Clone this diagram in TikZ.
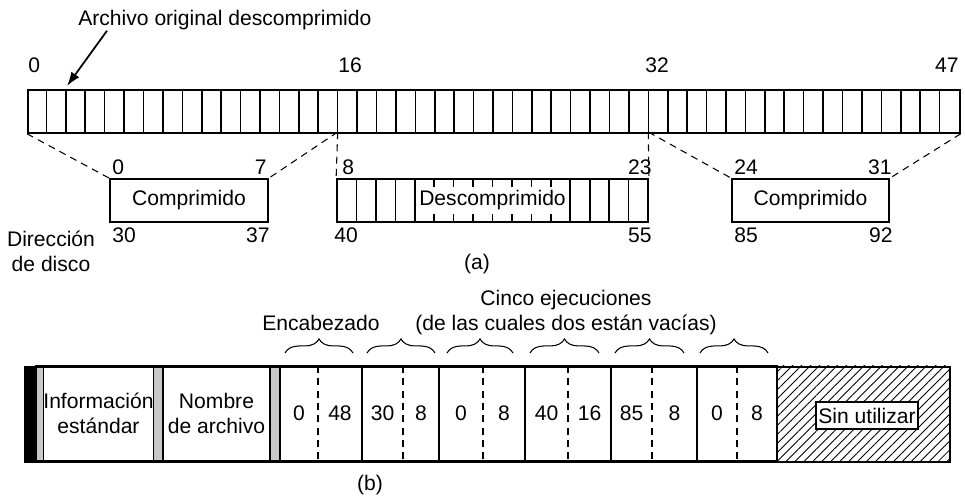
\documentclass[tikz,border=0pt]{standalone}
\usepackage{fontspec}
\setmainfont{Liberation Sans}
\usetikzlibrary{arrows.meta, positioning, calc, decorations.pathreplacing, patterns.meta}
\newlength\px
\setlength\px{0.2mm}
\definecolor{BarGray}{RGB}{200,200,200}
\tikzset{
  lbl/.style={font=\fontsize{12}{14}\selectfont, inner sep=0pt},
  blockbox/.style={
    rectangle, draw, line width=1pt, fill=white,
    inner sep=1pt, font=\fontsize{12}{14}\selectfont
  },
  cellline/.style={line width=0.9pt},
  guide/.style={line width=0.6pt, dash pattern=on 4pt off 3pt},
  pointer/.style={-{Latex[length=8pt,width=5.5pt]}, line width=1pt},
  runbrace/.style={decorate, decoration={brace, amplitude=8pt}, line width=0.6pt},
  grayband/.style={draw, line width=0.6pt, fill=BarGray}
}

\begin{document}
\begin{tikzpicture}[x=\px, y=-\px]
  \useasboundingbox (0,0) rectangle (965,496);

  % (a) archivo sin comprimir
  \node[lbl, anchor=base west] (archivo) at (78,26) {Archivo original descomprimido};
  \coordinate (cell2) at (67,86);
  \draw[pointer] ([xshift=29\px]archivo.south west) -- (cell2);

  \node[blockbox, fill=none, anchor=north west, minimum width=932\px, minimum height=43\px]
    (strip) at (27,89) {};
  \foreach \i in {1,...,47}
    \draw[cellline] (27+\i*19.417,89) -- (27+\i*19.417,132);
  \coordinate (s16) at (337.7,132);
  \coordinate (s32) at (648.3,132);

  \node[lbl, anchor=base west] (t0) at (28,73) {0};
  \node[lbl, anchor=base west] (t16) at (338,73) {16};
  \node[lbl, anchor=base west] (t32) at (645,73) {32};
  \node[lbl, anchor=base east] (t47) at (959,73) {47};

  % bloques en disco
  \node[blockbox, minimum width=158\px, minimum height=43\px] (compA) at (189,200.5) {Comprimido};
  \node[blockbox, minimum width=311\px, minimum height=43\px] (unc) at (492.5,200.5) {};
  \foreach \i in {1,...,15}
    \draw[cellline] (337+\i*19.44,179) -- (337+\i*19.44,222);
  \node[lbl, fill=white, minimum width=150\px, minimum height=27\px] (unctxt) at (unc) {Descomprimido};
  \node[blockbox, minimum width=157\px, minimum height=43\px] (compB) at (810.5,200.5) {Comprimido};

  \draw[guide] (strip.south west) -- (compA.north west);
  \draw[guide] (s16) -- (compA.north east);
  \draw[guide] (s16) -- (unc.north west);
  \draw[guide] (s32) -- (unc.north east);
  \draw[guide] (s32) -- (compB.north west);
  \draw[guide] (strip.south east) -- (compB.north east);

  \node[lbl, anchor=base west] (f0) at (112,175) {0};
  \node[lbl, anchor=base east] (f7) at (267,175) {7};
  \node[lbl, anchor=base west] (f8) at (342,175) {8};
  \node[lbl, anchor=base east] (f23) at (652,175) {23};
  \node[lbl, anchor=base west] (f24) at (734,175) {24};
  \node[lbl, anchor=base east] (f31) at (892,175) {31};

  \node[lbl, anchor=base west] (d30) at (112,243) {30};
  \node[lbl, anchor=base east] (d37) at (270,243) {37};
  \node[lbl, anchor=base west] (d40) at (334,243) {40};
  \node[lbl, anchor=base east] (d55) at (652,243) {55};
  \node[lbl, anchor=base west] (d85) at (734,243) {85};
  \node[lbl, anchor=base east] (d92) at (893,243) {92};

  \node[lbl, align=center, anchor=north] (dir) at (51,231) {Dirección\\de disco};
  \node[lbl, anchor=base] (lbla) at (477,270) {(a)};

  % (b) registro MFT
  \path[pattern={Lines[angle=45, distance=3.6pt, line width=0.5pt]}] (777,366) rectangle (949,461);
  \fill (24,366) rectangle (36,461);
  \draw[grayband] (36,366) rectangle (45,461);
  \draw[grayband] (152,366) rectangle (163,461);
  \draw[grayband] (270,366) rectangle (280,461);

  \node[blockbox, align=center, minimum width=107\px, minimum height=95\px, inner sep=0pt]
    (std) at (98.5,413.5) {Información\\estándar};
  \node[blockbox, align=center, minimum width=107\px, minimum height=95\px, inner sep=0pt]
    (fname) at (216.5,413.5) {Nombre\\de archivo};

  \foreach \l/\r/\d/\a/\b [count=\k] in {280/362/318/0/48, 362/439/403/30/8,
      439/525/483/0/8, 525/611/568/40/16, 611/697/652/85/8, 697/777/737/0/8} {
    \node[blockbox, minimum width={(\r-\l)*0.2mm}, minimum height=95\px]
      (run\k) at ({(\l+\r)/2},413.5) {};
    \draw[guide] (\d,366) -- (\d,461);
    \node[lbl] (runa\k) at ({(\l+\d)/2},413.5) {\a};
    \node[lbl] (runb\k) at ({(\d+\r)/2},413.5) {\b};
  }

  \node[blockbox, line width=1.2pt, inner sep=1.5pt, minimum height=27\px]
    (unused) at (867,415.5) {Sin utilizar};
  \node[draw, line width=1pt, anchor=north west, minimum width=925\px, minimum height=95\px]
    (record) at (24,366) {};

  \foreach \l/\r in {285/353, 367/435, 447/513, 530/599, 615/684, 700/768}
    \draw[runbrace] (\l,353) -- (\r,353);

  \node[lbl, anchor=base] (head) at (321,331) {Encabezado};
  \node[lbl, align=center, anchor=south] (cinco) at (566,335)
    {Cinco ejecuciones\\(de las cuales dos están vacías)};
  \node[lbl, anchor=base] (lblb) at (370,490) {(b)};
\end{tikzpicture}
\end{document}
